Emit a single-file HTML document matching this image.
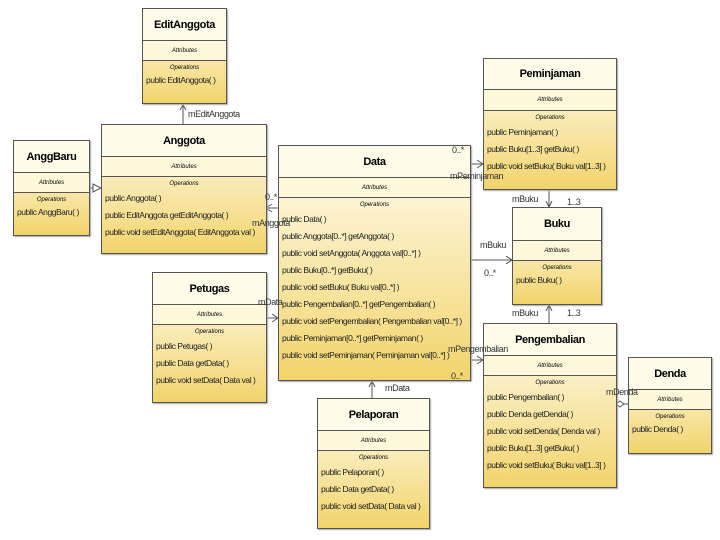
<!DOCTYPE html>
<html><head><meta charset="utf-8"><style>
body{margin:0;width:720px;height:540px;background:#fff;position:relative;overflow:hidden;font-family:"Liberation Sans",sans-serif;}
.b{position:absolute;border:1px solid #555;box-sizing:border-box;background:linear-gradient(#fffdf0,#f2d46c);box-shadow:1px 1px 1px #aaa;}
.n{border-bottom:1px solid #555;font-weight:bold;font-size:11px;text-align:center;box-sizing:border-box;background:#fffcea;display:flex;align-items:center;justify-content:center;letter-spacing:-0.4px}
.a{border-bottom:1px solid #555;font-size:6px;font-style:italic;text-align:center;box-sizing:border-box;display:flex;align-items:center;justify-content:center;background:#fff8da}
.ol{font-size:6px;font-style:italic;text-align:center;line-height:11px;margin-top:2px}
.o{font-size:8.5px;letter-spacing:-0.45px;line-height:17px;padding-left:3px;white-space:nowrap;color:#222}
.t{position:absolute;font-size:9px;letter-spacing:-0.4px;color:#333;white-space:nowrap}
</style></head><body>
<svg style="position:absolute;left:0;top:0" width="720" height="540">
<g stroke="#555" fill="none" stroke-width="1">
<line x1="183" y1="124" x2="183" y2="105"/><path d="M180,110 L183,105 L186,110"/>
<line x1="89" y1="188" x2="101" y2="188"/><path d="M93,184 L101,188 L93,192 Z" fill="#fff"/>
<line x1="278" y1="208" x2="266" y2="208"/><path d="M272,204 L266,208 L272,212"/>
<line x1="266" y1="318" x2="278" y2="318"/><path d="M272,314 L278,318 L272,322"/>
<line x1="372" y1="398" x2="372" y2="381"/><path d="M369,387 L372,381 L375,387"/>
<line x1="470" y1="164" x2="483" y2="164"/><path d="M477,160 L483,164 L477,168"/>
<line x1="470" y1="260" x2="512" y2="260"/><path d="M506,256 L512,260 L506,264"/>
<line x1="470" y1="360" x2="483" y2="360"/><path d="M477,356 L483,360 L477,364"/>
<line x1="549" y1="189" x2="549" y2="207"/><path d="M546,201 L549,207 L552,201"/>
<line x1="549" y1="323" x2="549" y2="305"/><path d="M546,311 L549,305 L552,311"/>
<line x1="616" y1="404" x2="628" y2="404"/><path d="M616,404 L620,401 L624,404 L620,407 Z" fill="#fff"/>
</g></svg>

<div class="b" style="left:142px;top:8px;width:85px;height:96px"><div class="n" style="height:32px">EditAnggota</div><div class="a" style="height:20px">Attributes</div><div class="ol">Operations</div><div class="o" style="line-height:12px">public EditAnggota( )</div></div>

<div class="b" style="left:101px;top:124px;width:166px;height:130px"><div class="n" style="height:32px">Anggota</div><div class="a" style="height:20px">Attributes</div><div class="ol">Operations</div><div class="o">public Anggota( )<br>public EditAnggota getEditAnggota( )<br>public void setEditAnggota( EditAnggota val )</div></div>

<div class="b" style="left:13px;top:140px;width:77px;height:96px"><div class="n" style="height:32px">AnggBaru</div><div class="a" style="height:20px">Attributes</div><div class="ol">Operations</div><div class="o" style="line-height:12px">public AnggBaru( )</div></div>

<div class="b" style="left:278px;top:145px;width:193px;height:236px"><div class="n" style="height:32px">Data</div><div class="a" style="height:20px">Attributes</div><div class="ol">Operations</div><div class="o">public Data( )<br>public Anggota[0..*] getAnggota( )<br>public void setAnggota( Anggota val[0..*] )<br>public Buku[0..*] getBuku( )<br>public void setBuku( Buku val[0..*] )<br>public Pengembalian[0..*] getPengembalian( )<br>public void setPengembalian( Pengembalian val[0..*] )<br>public Peminjaman[0..*] getPeminjaman( )<br>public void setPeminjaman( Peminjaman val[0..*] )</div></div>

<div class="b" style="left:152px;top:272px;width:115px;height:131px"><div class="n" style="height:32px">Petugas</div><div class="a" style="height:20px">Attributes</div><div class="ol">Operations</div><div class="o">public Petugas( )<br>public Data getData( )<br>public void setData( Data val )</div></div>

<div class="b" style="left:317px;top:398px;width:113px;height:131px"><div class="n" style="height:32px">Pelaporan</div><div class="a" style="height:20px">Attributes</div><div class="ol">Operations</div><div class="o">public Pelaporan( )<br>public Data getData( )<br>public void setData( Data val )</div></div>

<div class="b" style="left:483px;top:58px;width:134px;height:132px"><div class="n" style="height:31px">Peminjaman</div><div class="a" style="height:21px">Attributes</div><div class="ol">Operations</div><div class="o">public Peminjaman( )<br>public Buku[1..3] getBuku( )<br>public void setBuku( Buku val[1..3] )</div></div>

<div class="b" style="left:512px;top:207px;width:90px;height:98px"><div class="n" style="height:33px">Buku</div><div class="a" style="height:20px">Attributes</div><div class="ol">Operations</div><div class="o" style="line-height:12px">public Buku( )</div></div>

<div class="b" style="left:483px;top:323px;width:134px;height:165px"><div class="n" style="height:32px">Pengembalian</div><div class="a" style="height:20px">Attributes</div><div class="ol">Operations</div><div class="o">public Pengembalian( )<br>public Denda getDenda( )<br>public void setDenda( Denda val )<br>public Buku[1..3] getBuku( )<br>public void setBuku( Buku val[1..3] )</div></div>

<div class="b" style="left:628px;top:357px;width:84px;height:97px"><div class="n" style="height:32px">Denda</div><div class="a" style="height:20px">Attributes</div><div class="ol">Operations</div><div class="o" style="line-height:12px">public Denda( )</div></div>

<div class="t" style="left:188px;top:109px">mEditAnggota</div>
<div class="t" style="left:265px;top:192px">0..*</div>
<div class="t" style="left:252px;top:218px">mAnggota</div>
<div class="t" style="left:258px;top:297px">mData</div>
<div class="t" style="left:385px;top:383px">mData</div>
<div class="t" style="left:452px;top:145px">0..*</div>
<div class="t" style="left:450px;top:171px">mPeminjaman</div>
<div class="t" style="left:480px;top:240px">mBuku</div>
<div class="t" style="left:484px;top:268px">0..*</div>
<div class="t" style="left:448px;top:344px">mPengembalian</div>
<div class="t" style="left:451px;top:371px">0..*</div>
<div class="t" style="left:512px;top:194px">mBuku</div>
<div class="t" style="left:567px;top:197px">1..3</div>
<div class="t" style="left:512px;top:308px">mBuku</div>
<div class="t" style="left:567px;top:308px">1..3</div>
<div class="t" style="left:606px;top:387px">mDenda</div>
</body></html>
